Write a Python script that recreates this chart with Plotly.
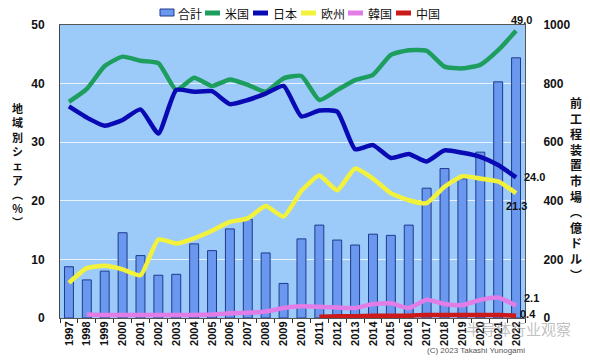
import plotly.graph_objects as go

years = [str(y) for y in range(1997, 2023)]
total = [175, 130, 160, 291, 213, 146, 149, 253, 230, 304, 337, 222, 118,
         270, 317, 266, 249, 286, 282, 317, 443, 510, 475, 566, 806, 888]
us = [36.9, 39.1, 43.0, 44.6, 43.9, 43.5, 38.9, 41.0, 39.6, 40.7, 39.8, 38.6, 40.9,
      41.3, 37.2, 38.9, 40.6, 41.5, 44.9, 45.7, 45.6, 42.9, 42.6, 43.2, 45.7, 49.0]
jp = [36.1, 34.2, 32.8, 33.8, 35.6, 31.5, 38.9, 38.6, 38.7, 36.5, 37.2, 38.3, 39.6,
      34.4, 35.4, 35.2, 28.8, 29.5, 27.3, 28.0, 26.7, 28.6, 28.2, 27.5, 26.1, 24.0]
eu = [6.0, 8.5, 8.9, 8.3, 7.3, 13.4, 12.7, 13.6, 14.9, 16.4, 17.0, 19.1, 17.3,
      21.7, 24.3, 21.8, 25.5, 23.8, 21.3, 20.1, 19.6, 22.4, 24.2, 23.8, 23.3, 21.3]
kr = [None, 0.6, 0.5, 0.5, 0.5, 0.5, 0.5, 0.5, 0.6, 0.8, 0.9, 1.1, 1.7,
      2.0, 1.9, 1.8, 1.7, 2.4, 2.5, 1.7, 3.1, 2.4, 2.2, 3.1, 3.5, 2.1]
cn = [None] * 14 + [0.2, 0.3, 0.3, 0.4, 0.4, 0.4, 0.5, 0.5, 0.5, 0.5, 0.5, 0.4]

end_labels = ["49.0", "24.0", "21.3", "2.1", "0.4"]

W, H = 590, 361
L, R, T, B = 60, 65, 25, 43
PW, PH = W - L - R, H - T - B


def px(x):
    return (x - L) / PW


def py(y):
    return (H - B - y) / PH


C_BAR = "#6A98EE"
C_BAR_LINE = "#1F3A8F"
C_US = "#1E9E5E"
C_JP = "#0A0AB4"
C_EU = "#F2F23C"
C_KR = "#E27CE6"
C_CN = "#CC1A1A"
NUM_FONT = "Liberation Sans Narrow, Arial Narrow, Liberation Sans, Arial"
JP_FONT = "Noto Sans CJK JP"

fig = go.Figure()
fig.add_trace(go.Bar(x=years, y=total, name="合計", marker=dict(color=C_BAR, line=dict(color=C_BAR_LINE, width=1)),
                     width=0.5, yaxis="y", showlegend=False))
for name, vals, col in [("米国", us, C_US), ("日本", jp, C_JP), ("欧州", eu, C_EU),
                        ("韓国", kr, C_KR), ("中国", cn, C_CN)]:
    fig.add_trace(go.Scatter(x=years, y=vals, name=name, mode="lines", yaxis="y2",
                             line=dict(color=col, width=4.5, shape="spline", smoothing=0.5),
                             showlegend=False))

tick_font = dict(family=NUM_FONT, size=12, color="#111111", weight="bold")

fig.update_layout(
    width=W, height=H,
    margin=dict(l=L, r=R, t=T, b=B),
    paper_bgcolor="white",
    plot_bgcolor="#9CCBFA",
    bargap=0.5,
    xaxis=dict(type="category", range=[-0.5, len(years) - 0.5], tickangle=-90,
               tickfont=dict(family=NUM_FONT, size=11, color="#111111", weight="bold"),
               ticks="outside", ticklen=4, tickcolor="#333333", tickson="boundaries",
               showline=True, linecolor="#555555", linewidth=1, mirror=True, showgrid=False,
               ticklabelstandoff=-2),
    yaxis=dict(side="right", range=[0, 1000], dtick=200, showgrid=True, gridcolor="#E8F2FF", gridwidth=1,
               tickfont=tick_font, ticks="outside", ticklen=15, tickcolor="rgba(0,0,0,0)",
               showline=True, linecolor="#555555", linewidth=1, zeroline=False),
    yaxis2=dict(side="left", overlaying="y", range=[0, 50], dtick=10, showgrid=False,
                tickfont=tick_font, ticks="outside", ticklen=12, tickcolor="rgba(0,0,0,0)",
                showline=True, linecolor="#444444", linewidth=1, zeroline=False),
)

# value labels at series ends (category index of the last year)
lab_font = dict(family=NUM_FONT, size=11, color="#111111", weight="bold")
li = len(years) - 1
fig.add_annotation(x=li, y=us[-1], xref="x", yref="y2", text=end_labels[0], showarrow=False,
                   font=lab_font, xanchor="center", yanchor="bottom", yshift=3, xshift=5)
fig.add_annotation(x=li, y=jp[-1], xref="x", yref="y2", text=end_labels[1], showarrow=False,
                   font=lab_font, xanchor="left", yanchor="middle", xshift=6)
fig.add_annotation(x=li, y=eu[-1], xref="x", yref="y2", text=end_labels[2], showarrow=False,
                   font=lab_font, xanchor="center", yanchor="top", yshift=-5)
fig.add_annotation(x=li, y=kr[-1], xref="x", yref="y2", text=end_labels[3], showarrow=False,
                   font=lab_font, xanchor="left", yanchor="middle", xshift=6, yshift=8)
fig.add_annotation(x=li, y=cn[-1], xref="x", yref="y2", text=end_labels[4], showarrow=False,
                   font=lab_font, xanchor="left", yanchor="middle", xshift=3, yshift=2, borderpad=0)

# custom compact legend
leg_y = py(13)
leg_font = dict(family=JP_FONT, size=12, color="#111111")
fig.add_shape(type="rect", xref="paper", yref="paper", x0=px(160), x1=px(174), y0=py(16), y1=py(9),
              fillcolor=C_BAR, line=dict(color=C_BAR_LINE, width=1))
fig.add_annotation(xref="paper", yref="paper", x=px(176), y=leg_y, text="合計", showarrow=False,
                   xanchor="left", yanchor="middle", font=leg_font)
for name, col, x0 in [("米国", C_US, 205), ("日本", C_JP, 253), ("欧州", C_EU, 301),
                      ("韓国", C_KR, 348), ("中国", C_CN, 396)]:
    fig.add_shape(type="line", xref="paper", yref="paper", x0=px(x0), x1=px(x0 + 15), y0=leg_y, y1=leg_y,
                  line=dict(color=col, width=5))
    fig.add_annotation(xref="paper", yref="paper", x=px(x0 + 18), y=leg_y, text=name, showarrow=False,
                       xanchor="left", yanchor="middle", font=leg_font)

# vertical axis titles (upright, stacked characters)
left_title = ["地", "域", "別", "シ", "ェ", "ア", "︵", "%", "︶"]
right_title = ["前", "工", "程", "装", "置", "市", "場", "︵", "億", "ド", "ル", "︶"]
fig.add_annotation(xref="paper", yref="paper", x=px(17), y=py(165), text="<br>".join(left_title),
                   showarrow=False, xanchor="center", yanchor="middle",
                   font=dict(family=JP_FONT, size=11, color="#111111", weight="bold"))
fig.add_annotation(xref="paper", yref="paper", x=px(576), y=py(188), text="<br>".join(right_title),
                   showarrow=False, xanchor="center", yanchor="middle",
                   font=dict(family=JP_FONT, size=12, color="#111111", weight="bold"))

fig.add_annotation(xref="paper", yref="paper", x=px(527), y=py(351), text="(C) 2023 Takashi Yunogami",
                   showarrow=False, xanchor="right", yanchor="middle",
                   font=dict(family="Liberation Sans", size=8, color="#555555"))
fig.add_annotation(xref="paper", yref="paper", x=px(518), y=py(329), text="半导体行业观察",
                   showarrow=False, xanchor="center", yanchor="middle",
                   font=dict(family="Noto Sans CJK SC", size=15, color="rgba(150,150,150,0.6)"))

fig.write_html("out.html", config={"displayModeBar": False},
               post_script="document.body.style.margin='0';")
